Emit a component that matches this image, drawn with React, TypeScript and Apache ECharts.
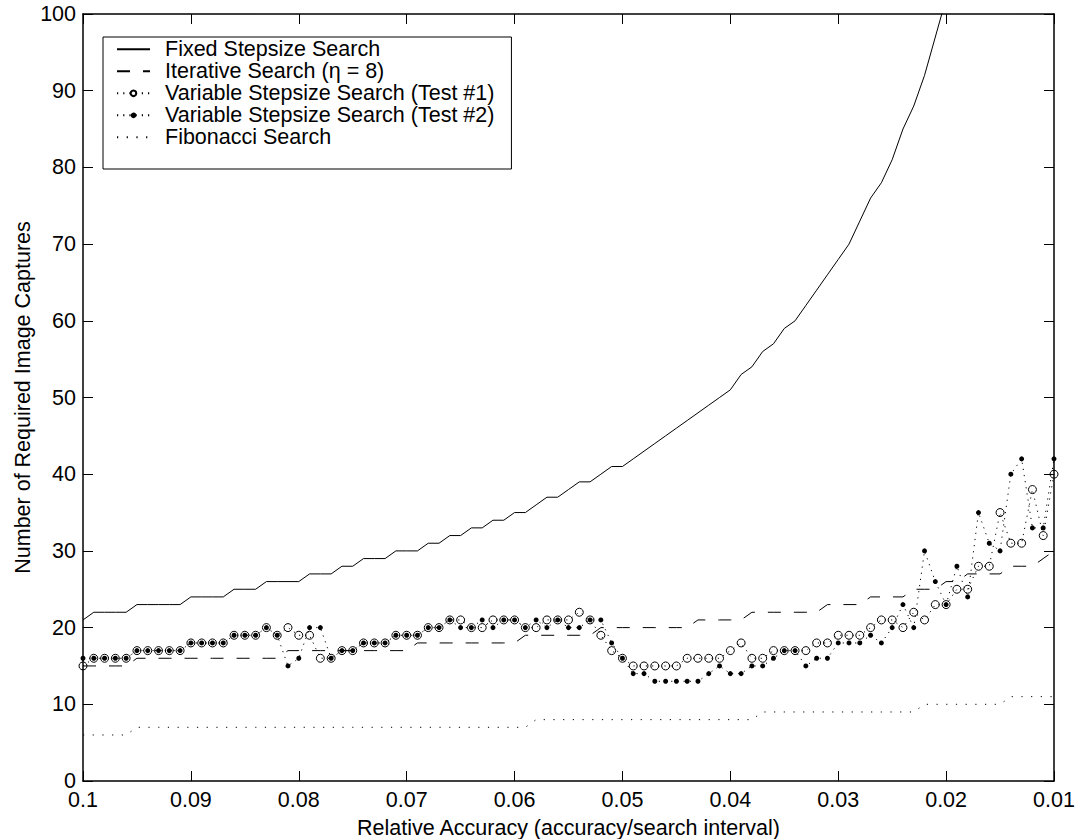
import React, { useEffect, useRef } from "react";
import * as echarts from "echarts";

const accuracy = [
  0.1, 0.099, 0.098, 0.097, 0.096, 0.095, 0.094, 0.093, 0.092, 0.091,
  0.09, 0.089, 0.088, 0.087, 0.086, 0.085, 0.084, 0.083, 0.082, 0.081,
  0.08, 0.079, 0.078, 0.077, 0.076, 0.075, 0.074, 0.073, 0.072, 0.071,
  0.07, 0.069, 0.068, 0.067, 0.066, 0.065, 0.064, 0.063, 0.062, 0.061,
  0.06, 0.059, 0.058, 0.057, 0.056, 0.055, 0.054, 0.053, 0.052, 0.051,
  0.05, 0.049, 0.048, 0.047, 0.046, 0.045, 0.044, 0.043, 0.042, 0.041,
  0.04, 0.039, 0.038, 0.037, 0.036, 0.035, 0.034, 0.033, 0.032, 0.031,
  0.03, 0.029, 0.028, 0.027, 0.026, 0.025, 0.024, 0.023, 0.022, 0.021,
  0.02, 0.019, 0.018, 0.017, 0.016, 0.015, 0.014, 0.013, 0.012, 0.011,
  0.01,
];

const fixedStepsize = [
  21, 22, 22, 22, 22, 23, 23, 23, 23, 23,
  24, 24, 24, 24, 25, 25, 25, 26, 26, 26,
  26, 27, 27, 27, 28, 28, 29, 29, 29, 30,
  30, 30, 31, 31, 32, 32, 33, 33, 34, 34,
  35, 35, 36, 37, 37, 38, 39, 39, 40, 41,
  41, 42, 43, 44, 45, 46, 47, 48, 49, 50,
  51, 53, 54, 56, 57, 59, 60, 62, 64, 66,
  68, 70, 73, 76, 78, 81, 85, 88, 92, 97,
  102,
];

const iterative = [
  15, 15, 15, 15, 15, 16, 16, 16, 16, 16,
  16, 16, 16, 16, 16, 16, 16, 16, 16, 17,
  17, 17, 17, 17, 17, 17, 17, 17, 17, 17,
  17, 18, 18, 18, 18, 18, 18, 18, 18, 18,
  18, 19, 19, 19, 19, 19, 19, 19, 20, 20,
  20, 20, 20, 20, 20, 20, 20, 21, 21, 21,
  21, 21, 22, 22, 22, 22, 22, 22, 22, 23,
  23, 23, 23, 24, 24, 24, 24, 25, 25, 25,
  26, 26, 27, 27, 27, 27, 28, 28, 28, 29,
  30,
];

const variableTest1 = [
  15, 16, 16, 16, 16, 17, 17, 17, 17, 17,
  18, 18, 18, 18, 19, 19, 19, 20, 19, 20,
  19, 19, 16, 16, 17, 17, 18, 18, 18, 19,
  19, 19, 20, 20, 21, 21, 20, 20, 21, 21,
  21, 20, 20, 21, 21, 21, 22, 21, 19, 17,
  16, 15, 15, 15, 15, 15, 16, 16, 16, 16,
  17, 18, 16, 16, 17, 17, 17, 17, 18, 18,
  19, 19, 19, 20, 21, 21, 20, 22, 21, 23,
  23, 25, 25, 28, 28, 35, 31, 31, 38, 32,
  40,
];

const variableTest2 = [
  16, 16, 16, 16, 16, 17, 17, 17, 17, 17,
  18, 18, 18, 18, 19, 19, 19, 20, 19, 15,
  16, 20, 20, 16, 17, 17, 18, 18, 18, 19,
  19, 19, 20, 20, 21, 20, 20, 21, 20, 21,
  21, 20, 21, 20, 21, 20, 20, 21, 21, 18,
  16, 14, 14, 13, 13, 13, 13, 13, 14, 15,
  14, 14, 15, 15, 16, 17, 17, 15, 16, 16,
  18, 18, 18, 19, 18, 20, 23, 20, 30, 26,
  23, 28, 24, 35, 31, 30, 40, 42, 33, 33,
  42,
];

const fibonacci = [
  6, 6, 6, 6, 6, 7, 7, 7, 7, 7,
  7, 7, 7, 7, 7, 7, 7, 7, 7, 7,
  7, 7, 7, 7, 7, 7, 7, 7, 7, 7,
  7, 7, 7, 7, 7, 7, 7, 7, 7, 7,
  7, 7, 8, 8, 8, 8, 8, 8, 8, 8,
  8, 8, 8, 8, 8, 8, 8, 8, 8, 8,
  8, 8, 8, 9, 9, 9, 9, 9, 9, 9,
  9, 9, 9, 9, 9, 9, 9, 9, 10, 10,
  10, 10, 10, 10, 10, 10, 11, 11, 11, 11,
  11,
];

const seriesNames = [
  "Fixed Stepsize Search",
  "Iterative Search (\u03b7 = 8)",
  "Variable Stepsize Search (Test #1)",
  "Variable Stepsize Search (Test #2)",
  "Fibonacci Search",
];

const FONT = "'Liberation Sans', Arial, Helvetica, sans-serif";

const pairs = (ys: number[]) => ys.map((y, i) => [accuracy[i], y]);

const hiddenSymbol = { color: "rgba(0,0,0,0)", borderColor: "rgba(0,0,0,0)", borderWidth: 0 };

export default function App() {
  const ref = useRef<HTMLDivElement>(null);

  useEffect(() => {
    if (!ref.current) return;
    const chart = echarts.init(ref.current, undefined, { renderer: "svg" });

    const labelStyle = { color: "#000", fontSize: 21.5, fontFamily: FONT };
    const axisLine = { show: true, onZero: false, lineStyle: { color: "#000", width: 1.5 } };
    const axisTick = { show: true, inside: true, length: 10, lineStyle: { color: "#000", width: 1 } };

    const xBase = {
      type: "value",
      min: 0.01,
      max: 0.1,
      interval: 0.01,
      inverse: true,
      axisLine,
      axisTick,
      splitLine: { show: false },
    };
    const yBase = {
      type: "value",
      min: 0,
      max: 100,
      interval: 10,
      axisLine,
      axisTick,
      splitLine: { show: false },
    };

    chart.setOption({
      animation: false,
      backgroundColor: "#fff",
      textStyle: { fontFamily: FONT },
      grid: {
        left: 83,
        right: 23,
        top: 14,
        bottom: 58,
        containLabel: false,
        outerBoundsMode: "none",
      },
      legend: {
        orient: "vertical",
        left: 103,
        top: 37,
        padding: [1.3, 17, 20.7, 13],
        itemWidth: 33,
        itemHeight: 7,
        itemGap: 0,
        borderColor: "#000",
        borderWidth: 1,
        backgroundColor: "#fff",
        selectedMode: false,
        textStyle: { ...labelStyle, padding: [0, 0, 0, 10] },
        data: [
          { name: seriesNames[0], itemStyle: hiddenSymbol },
          { name: seriesNames[1], itemStyle: hiddenSymbol },
          { name: seriesNames[2] },
          { name: seriesNames[3] },
          { name: seriesNames[4], itemStyle: hiddenSymbol },
        ],
      },
      xAxis: [
        {
          ...xBase,
          position: "bottom",
          axisLabel: {
            ...labelStyle,
            margin: 10,
            lineHeight: 18,
            showMinLabel: true,
            showMaxLabel: true,
            formatter: (v: number) => String(Number(v.toFixed(3))),
          },
          name: "Relative Accuracy (accuracy/search interval)",
          nameLocation: "middle",
          nameGap: 36,
          nameMoveOverlap: false,
          nameTextStyle: labelStyle,
        },
        { ...xBase, position: "top", axisLabel: { show: false } },
      ],
      yAxis: [
        {
          ...yBase,
          position: "left",
          axisLabel: {
            ...labelStyle,
            lineHeight: 16,
            margin: 7,
            showMinLabel: true,
            showMaxLabel: true,
          },
          name: "Number of Required Image Captures",
          nameLocation: "middle",
          nameGap: 49,
          nameMoveOverlap: false,
          nameTextStyle: labelStyle,
        },
        { ...yBase, position: "right", axisLabel: { show: false } },
      ],
      series: [
        {
          name: seriesNames[4],
          type: "line",
          data: pairs(fibonacci),
          symbol: "none",
          lineStyle: { color: "#000", width: 1, type: [1.2, 8.5] },
          itemStyle: { color: "#000" },
        },
        {
          name: seriesNames[0],
          type: "line",
          data: pairs(fixedStepsize),
          symbol: "none",
          lineStyle: { color: "#000", width: 1, type: "solid" },
          itemStyle: { color: "#000" },
        },
        {
          name: seriesNames[1],
          type: "line",
          data: pairs(iterative),
          symbol: "none",
          lineStyle: { color: "#000", width: 1, type: [13, 13] },
          itemStyle: { color: "#000" },
        },
        {
          name: seriesNames[2],
          type: "line",
          data: pairs(variableTest1),
          symbol: "circle",
          symbolSize: 8,
          showAllSymbol: true,
          lineStyle: { color: "#000", width: 1, type: [1.2, 5] },
          itemStyle: { color: "rgba(255,255,255,0)", borderColor: "#000", borderWidth: 1 },
        },
        {
          name: seriesNames[3],
          type: "line",
          data: pairs(variableTest2),
          symbol: "circle",
          symbolSize: 5,
          showAllSymbol: true,
          lineStyle: { color: "#000", width: 1, type: [1.2, 5] },
          itemStyle: { color: "#000" },
        },
      ],
    });

    return () => chart.dispose();
  }, []);

  return (
    <div
      ref={ref}
      style={{ position: "fixed", left: 0, top: 0, width: 1077, height: 839, overflow: "hidden" }}
    />
  );
}
